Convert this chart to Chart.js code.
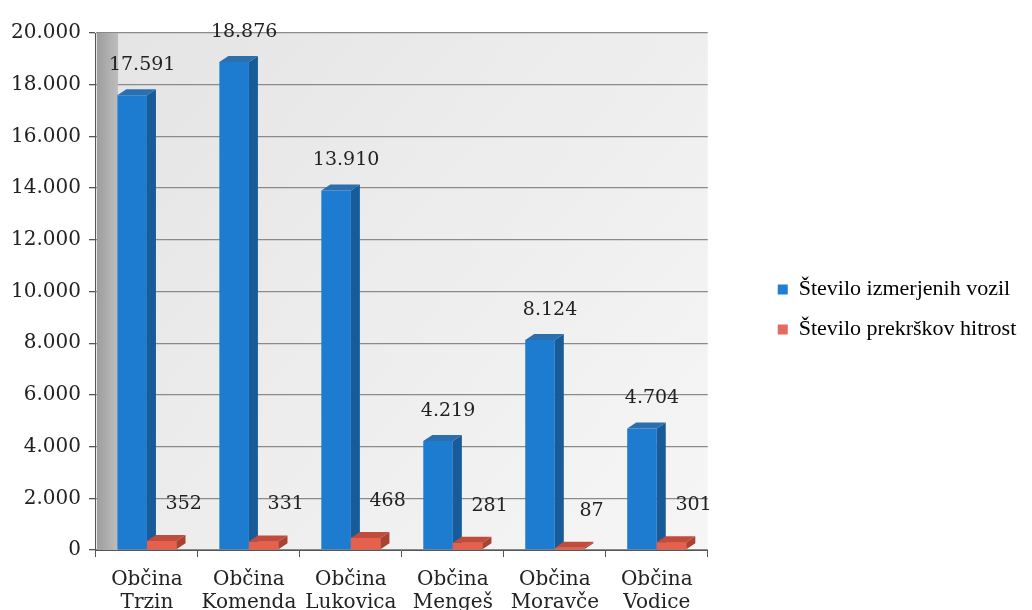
<!DOCTYPE html>
<html>
<head>
<meta charset="utf-8">
<script src="https://cdn.jsdelivr.net/npm/chart.js@4"></script>
<style>
  html, body { margin: 0; padding: 0; background: #fff; }
  #wrap { width: 1032px; height: 610px; }
</style>
</head>
<body>
<div id="wrap"><canvas id="chart"></canvas></div>
<script>
// data
const categories = [
  ['Občina', 'Trzin'], ['Občina', 'Komenda'], ['Občina', 'Lukovica'],
  ['Občina', 'Mengeš'], ['Občina', 'Moravče'], ['Občina', 'Vodice']
];
const measured = [17591, 18876, 13910, 4219, 8124, 4704];
const violations = [352, 331, 468, 281, 87, 301];
const seriesNames = ['Število izmerjenih vozil', 'Število prekrškov hitrost'];
const yMin = 0, yMax = 20000, yStep = 2000;

const serif = "'DejaVu Serif', 'Liberation Serif', serif";
const times = "'Liberation Serif', serif";
const fmt = n => String(n).replace(/\B(?=(\d{3})+(?!\d))/g, '.');

// colours: front / side / top of the pseudo-3D columns
const blue = { front: '#1e7cd0', side: '#175c98', top: '#2b6fae' };
const red  = { front: '#e5604d', side: '#a94232', top: '#c24c3b' };

const DEPTH = 9, RISE = 6;

function face(ctx, pts, color) {
  ctx.beginPath();
  ctx.moveTo(pts[0][0], pts[0][1]);
  for (let i = 1; i < pts.length; i++) ctx.lineTo(pts[i][0], pts[i][1]);
  ctx.closePath();
  ctx.fillStyle = color;
  ctx.fill();
}

function extrude(ctx, bar, c) {
  const l = bar.x - bar.width / 2, r = bar.x + bar.width / 2;
  const t = bar.y, b = bar.base;
  face(ctx, [[r, t], [r + DEPTH, t - RISE], [r + DEPTH, b - RISE], [r, b]], c.side);
  face(ctx, [[l, t], [l + DEPTH, t - RISE], [r + DEPTH, t - RISE], [r, t]], c.top);
}

// grey back wall + left side wall
const walls = {
  id: 'walls',
  beforeDraw(chart) {
    const { ctx, chartArea: a } = chart;
    const g = ctx.createLinearGradient(a.left, a.top, a.right, a.bottom);
    g.addColorStop(0, '#e4e4e4');
    g.addColorStop(1, '#f6f6f6');
    ctx.save();
    ctx.fillStyle = g;
    ctx.fillRect(a.left, a.top, a.right - a.left, a.bottom - a.top);
    ctx.restore();
  },
  beforeDatasetsDraw(chart) {
    const { ctx, chartArea: a } = chart;
    const g = ctx.createLinearGradient(a.left, 0, a.left + 22, 0);
    g.addColorStop(0, '#9c9c9c');
    g.addColorStop(1, '#bdbdbd');
    ctx.save();
    ctx.fillStyle = g;
    ctx.fillRect(a.left + 1, a.top, 21, a.bottom - a.top);
    ctx.restore();
  }
};

// side/top faces and value labels
const columns = {
  id: 'columns',
  afterDatasetsDraw(chart) {
    const ctx = chart.ctx;
    const mBlue = chart.getDatasetMeta(0), mRed = chart.getDatasetMeta(1);
    ctx.save();
    mBlue.data.forEach(bar => extrude(ctx, bar, blue));
    mRed.data.forEach(bar => { bar.draw(ctx); extrude(ctx, bar, red); });

    ctx.font = '19px ' + serif;
    ctx.fillStyle = '#222';
    ctx.textAlign = 'center';
    ctx.textBaseline = 'middle';
    mBlue.data.forEach((bar, i) => ctx.fillText(fmt(measured[i]), bar.x + 10, bar.y - 30));
    mRed.data.forEach((bar, i) => ctx.fillText(fmt(violations[i]), bar.x + 22, bar.y - 37));
    ctx.restore();
  }
};

// leave a gap between the plot and the legend on the right
const legendGap = {
  id: 'legendGap',
  beforeInit(chart) {
    const lg = chart.legend;
    const fit = lg.fit;
    lg.fit = function () { fit.call(this); this.width += 67; };
  },
  afterLayout(chart) {
    const lg = chart.legend;
    lg.left = chart.chartArea.right + 52;
    lg.top -= 12;
    lg.bottom -= 12;
  }
};

new Chart(document.getElementById('chart'), {
  type: 'bar',
  data: {
    labels: categories,
    datasets: [
      {
        label: seriesNames[0],
        data: measured,
        backgroundColor: blue.front,
        categoryPercentage: 0.58,
        barPercentage: 1.0,
      },
      {
        label: seriesNames[1],
        data: violations,
        backgroundColor: red.front,
        categoryPercentage: 0.58,
        barPercentage: 1.0,
      }
    ]
  },
  options: {
    responsive: true,
    maintainAspectRatio: false,
    animation: false,
    layout: { padding: { top: 33, left: 3, right: 0, bottom: 0 } },
    plugins: {
      legend: {
        position: 'right',
        labels: {
          boxWidth: 10,
          boxHeight: 10,
          padding: 18,
          color: '#222',
          font: { family: times, size: 22 },
          generateLabels: chart => chart.data.datasets.map((ds, i) => ({
            text: ds.label,
            fillStyle: i === 0 ? '#1f7fd2' : '#e56a5f',
            strokeStyle: 'rgba(0,0,0,0)',
            lineWidth: 0,
            datasetIndex: i,
          })),
        }
      },
      tooltip: { enabled: false },
    },
    scales: {
      x: {
        grid: { drawOnChartArea: false, drawTicks: true, tickLength: 7, tickColor: '#555' },
        border: { color: '#555' },
        ticks: { color: '#222', font: { family: serif, size: 20, lineHeight: 1.15 }, padding: 11, maxRotation: 0 },
        afterFit: scale => { scale.height -= 15; },
      },
      y: {
        min: yMin,
        max: yMax,
        grid: { color: '#8a8a8a', lineWidth: 1.3, tickLength: 7, tickColor: '#555' },
        border: { color: '#555' },
        ticks: {
          stepSize: yStep,
          color: '#222',
          padding: 8,
          font: { family: serif, size: 20 },
          callback: v => fmt(v),
        },
      },
    },
  },
  plugins: [walls, columns, legendGap],
});
</script>
</body>
</html>
